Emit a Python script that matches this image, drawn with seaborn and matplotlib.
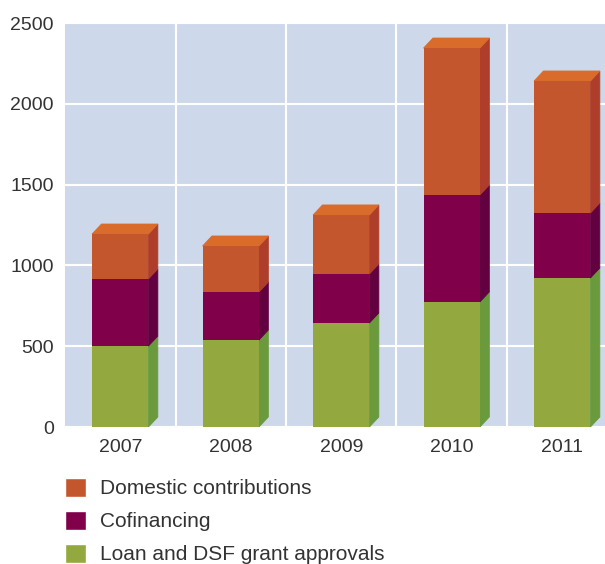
import matplotlib
matplotlib.use("Agg")
import matplotlib.pyplot as plt
import seaborn as sns
import pandas as pd
from matplotlib.patches import Polygon, Patch

# values
years = ["2007", "2008", "2009", "2010", "2011"]
loan = [501, 538, 644, 774, 922]
cofin = [415, 297, 303, 662, 402]
domestic = [278, 285, 365, 909, 817]

labels = ["Domestic contributions", "Cofinancing", "Loan and DSF grant approvals"]
front = {"dom": "#C4562E", "cof": "#80004A", "loan": "#93A83E"}
side = {"dom": "#AE3D2A", "cof": "#620040", "loan": "#6A9A3C"}
top_col = "#D96B2B"

df = pd.DataFrame({"year": years, "loan": loan, "cof": cofin, "dom": domestic})
df["c1"] = df["loan"]
df["c2"] = df["loan"] + df["cof"]
df["c3"] = df["c2"] + df["dom"]

sns.set_style("white")
plt.rcParams["font.family"] = ["Liberation Sans", "DejaVu Sans"]

fig = plt.figure(figsize=(6.05, 5.64), dpi=100)
ax = fig.add_axes([65 / 605, 137 / 564, 540 / 605, 404 / 564])
ax.set_facecolor("#CDD9EA")

# stacked bars: draw the totals first, then overlay the lower parts
w = 0.51
for col, k in [("c3", "dom"), ("c2", "cof"), ("c1", "loan")]:
    sns.barplot(data=df, x="year", y=col, color=front[k], width=w, saturation=1,
                linewidth=0, edgecolor="none", ax=ax, zorder=3)

# fake 3d depth: side faces and a top face
dx, dy = 0.085, 62
for i in range(len(years)):
    xl, xr = i - w / 2, i + w / 2
    bounds = [(0, df["c1"][i], "loan"), (df["c1"][i], df["c2"][i], "cof"), (df["c2"][i], df["c3"][i], "dom")]
    for b, t, k in bounds:
        ax.add_patch(Polygon([(xr, b), (xr + dx, b + dy), (xr + dx, t + dy), (xr, t)],
                             closed=True, facecolor=side[k], edgecolor=side[k], lw=0.6, zorder=2.9))
    T = df["c3"][i]
    ax.add_patch(Polygon([(xl, T), (xl + dx, T + dy), (xr + dx, T + dy), (xr, T)],
                         closed=True, facecolor=top_col, edgecolor=top_col, lw=0.6, zorder=2.9))

ax.set_xlim(-0.5, -0.5 + 540 / 110.5)
ax.set_ylim(0, 2500)
ax.set_yticks([0, 500, 1000, 1500, 2000, 2500])
ax.set_xticks([0.5, 1.5, 2.5, 3.5], minor=True)
ax.set_axisbelow(True)
ax.grid(True, axis="y", color="white", lw=1.5)
ax.grid(True, axis="x", which="minor", color="white", lw=1.5)
ax.grid(False, axis="x", which="major")
ax.set_xlabel("")
ax.set_ylabel("")
for s in ax.spines.values():
    s.set_visible(False)
ax.tick_params(axis="both", which="both", length=0, labelsize=14, colors="#333333")
ax.tick_params(axis="y", pad=8)
ax.tick_params(axis="x", pad=9)

handles = [Patch(facecolor=front["dom"]), Patch(facecolor=front["cof"]), Patch(facecolor=front["loan"])]
fig.legend(handles, labels, loc="upper left", bbox_to_anchor=(65 / 605, 1 - 478 / 564),
           frameon=False, fontsize=15, handlelength=1.0, handleheight=1.0,
           handletextpad=0.7, labelspacing=0.6, borderaxespad=0, borderpad=0,
           labelcolor="#333333")

fig.savefig("out.png", dpi=100)
